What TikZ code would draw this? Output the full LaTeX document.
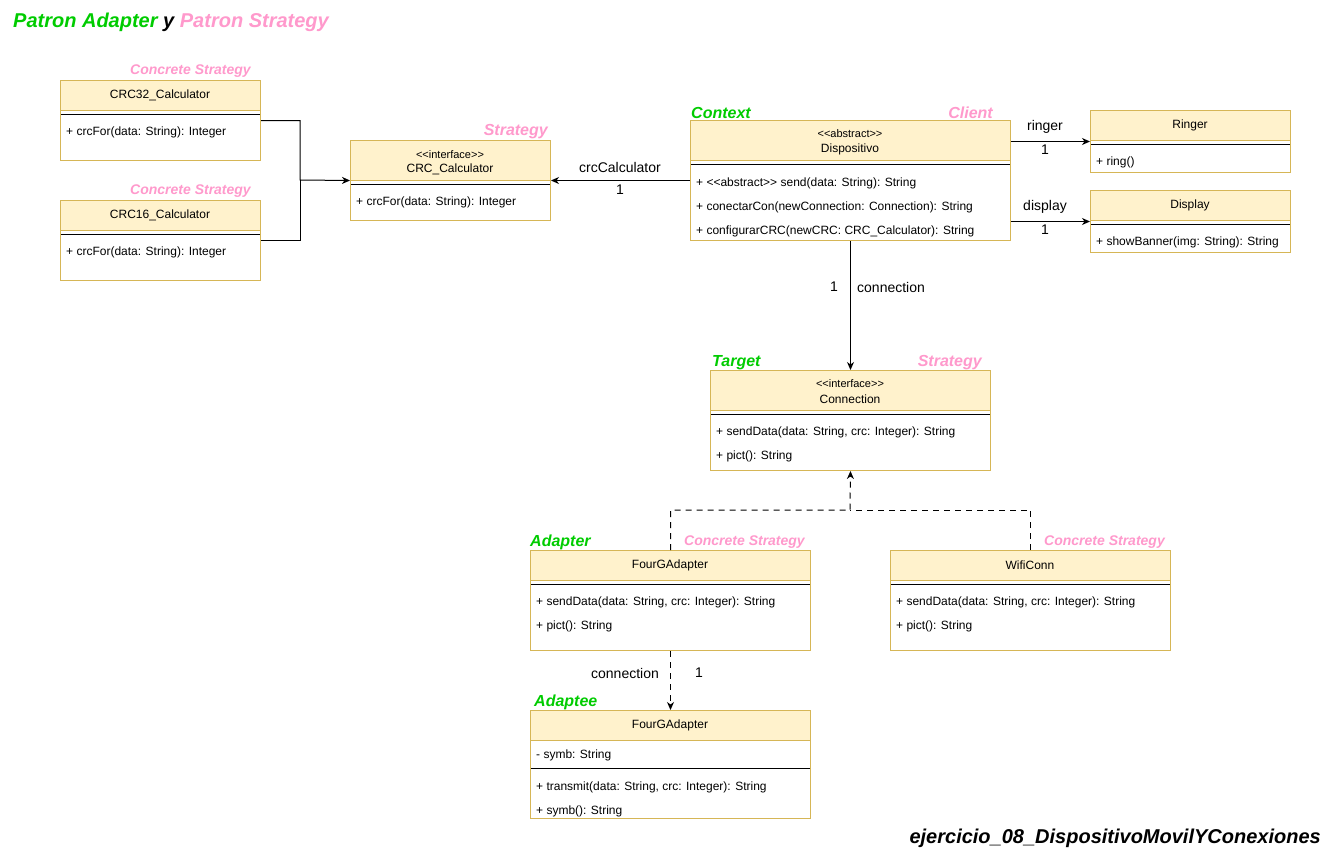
\documentclass[tikz,border=0pt]{standalone}
\usepackage{fontspec}
\setmainfont{Liberation Sans}[Ligatures=TeXOff]
\usetikzlibrary{arrows.meta}
\definecolor{hdrfill}{HTML}{FFF2CC}
\definecolor{hdrborder}{HTML}{D6B656}
\definecolor{rolegreen}{HTML}{00CC00}
\definecolor{rolepink}{HTML}{FF99CC}
\newcommand{\hdrband}[4]{\fill[hdrfill] (#1,#2) rectangle (#3,#4); \draw[hdrborder, line width=1pt] (#1,#4) -- (#3,#4);}
\newcommand{\sepband}[3]{\draw[black, line width=1pt] (#1,#3) -- (#2,#3);}
\begin{document}
\begin{tikzpicture}[x=1pt,y=-1pt,
  classbox/.style={draw=hdrborder, line width=1pt, inner sep=0pt, anchor=north west},
  cname/.style={inner sep=0pt, yshift=-1pt, font=\fontsize{12}{14}\selectfont},
  stereo/.style={inner sep=0pt, yshift=-1pt, font=\fontsize{11}{13}\selectfont},
  memb/.style={inner sep=0pt, yshift=-1pt, anchor=west, font=\fontsize{12}{14}\selectfont},
  roleg/.style={inner sep=0pt, yshift=-1.5pt, text=rolegreen, font=\fontsize{16}{19}\selectfont\bfseries\itshape},
  rolep/.style={inner sep=0pt, yshift=-1.5pt, text=rolepink, font=\fontsize{16}{19}\selectfont\bfseries\itshape},
  rolepsmall/.style={inner sep=0pt, yshift=-1.5pt, text=rolepink, font=\fontsize{14}{17}\selectfont\bfseries\itshape},
  elabel/.style={inner sep=0pt, font=\fontsize{14}{16}\selectfont},
  conn/.style={draw=black, line width=1pt},
  arr/.style={conn, -{Stealth[length=8pt,width=7pt,inset=2.5pt]}},
  dashconn/.style={conn, dash pattern=on 6pt off 5pt},
  dasharr/.style={arr, dash pattern=on 6pt off 5pt}
]
\fill[white] (0,0) rectangle (1331,859);

% title
\node[inner sep=0pt, anchor=west, yshift=-1pt, font=\fontsize{20}{24}\selectfont\bfseries\itshape] (title) at (13,21)
  {\textcolor{rolegreen}{Patron Adapter} y \textcolor{rolepink}{Patron Strategy}};
\node[inner sep=0pt, anchor=east, font=\fontsize{20}{24}\selectfont\bfseries\itshape] (footer) at (1321,838)
  {ejercicio\_08\_DispositivoMovilYConexiones};

% CRC32_Calculator
\hdrband{60}{80}{260}{110}
\sepband{60}{260}{114}
\node[classbox, minimum width=200pt, minimum height=80pt] (crc32) at (60,80) {};
\node[cname] (crc32n) at (160,94) {CRC32\_Calculator};
\node[memb] (crc32m) at (66,131) {+ crcFor(data: String): Integer};
\node[rolepsmall, anchor=east] (crc32r) at (251,70) {Concrete Strategy};

% CRC16_Calculator
\hdrband{60}{200}{260}{230}
\sepband{60}{260}{234}
\node[classbox, minimum width=200pt, minimum height=80pt] (crc16) at (60,200) {};
\node[cname] (crc16n) at (160,214) {CRC16\_Calculator};
\node[memb] (crc16m) at (66,251) {+ crcFor(data: String): Integer};
\node[rolepsmall, anchor=east] (crc16r) at (251,190) {Concrete Strategy};

% CRC_Calculator
\hdrband{350}{140}{550}{180}
\sepband{350}{550}{184}
\node[classbox, minimum width=200pt, minimum height=80pt] (crccalc) at (350,140) {};
\node[stereo] (crccalcs) at (450,154) {<<interface>>};
\node[cname] (crccalcn) at (450,168) {CRC\_Calculator};
\node[memb] (crccalcm) at (356,201) {+ crcFor(data: String): Integer};
\node[rolep, anchor=east] (crccalcr) at (548,130) {Strategy};

% Dispositivo
\hdrband{690}{120}{1010}{160}
\sepband{690}{1010}{164}
\node[classbox, minimum width=320pt, minimum height=120pt] (disp) at (690,120) {};
\node[stereo] (disps) at (850,133) {<<abstract>>};
\node[cname] (dispn) at (850,148) {Dispositivo};
\node[memb] (dispm1) at (696,182) {+ <<abstract>> send(data: String): String};
\node[memb] (dispm2) at (696,206) {+ conectarCon(newConnection: Connection): String};
\node[memb] (dispm3) at (696,230) {+ configurarCRC(newCRC: CRC\_Calculator): String};
\node[roleg, anchor=west] (dispr1) at (691,111) {Context};
\node[rolep, anchor=east] (dispr2) at (993,111) {Client};

% Ringer
\hdrband{1090}{110}{1290}{140}
\sepband{1090}{1290}{144}
\node[classbox, minimum width=200pt, minimum height=62pt] (ringer) at (1090,110) {};
\node[cname] (ringern) at (1190,124) {Ringer};
\node[memb] (ringerm) at (1096,161) {+ ring()};

% Display
\hdrband{1090}{190}{1290}{220}
\sepband{1090}{1290}{224}
\node[classbox, minimum width=200pt, minimum height=62pt] (display) at (1090,190) {};
\node[cname] (displayn) at (1190,204) {Display};
\node[memb] (displaym) at (1096,241) {+ showBanner(img: String): String};

% Connection
\hdrband{710}{370}{990}{410}
\sepband{710}{990}{414}
\node[classbox, minimum width=280pt, minimum height=100pt] (connection) at (710,370) {};
\node[stereo] (connections) at (850,383) {<<interface>>};
\node[cname] (connectionn) at (850,398) {Connection};
\node[memb] (connectionm1) at (716,431) {+ sendData(data: String, crc: Integer): String};
\node[memb] (connectionm2) at (716,455) {+ pict(): String};
\node[roleg, anchor=west] (connectionr1) at (712,361) {Target};
\node[rolep, anchor=east] (connectionr2) at (982,361) {Strategy};

% FourGAdapter (adapter)
\hdrband{530}{550}{810}{580}
\sepband{530}{810}{584}
\node[classbox, minimum width=280pt, minimum height=100pt] (fourg) at (530,550) {};
\node[cname] (fourgn) at (670,564) {FourGAdapter};
\node[memb] (fourgm1) at (536,601) {+ sendData(data: String, crc: Integer): String};
\node[memb] (fourgm2) at (536,625) {+ pict(): String};
\node[roleg, anchor=west] (fourgr1) at (530,541) {Adapter};
\node[rolepsmall, anchor=east] (fourgr2) at (805,541) {Concrete Strategy};

% WifiConn
\hdrband{890}{550}{1170}{580}
\sepband{890}{1170}{584}
\node[classbox, minimum width=280pt, minimum height=100pt] (wifi) at (890,550) {};
\node[cname] (wifin) at (1030,564) {WifiConn};
\node[memb] (wifim1) at (896,601) {+ sendData(data: String, crc: Integer): String};
\node[memb] (wifim2) at (896,625) {+ pict(): String};
\node[rolepsmall, anchor=east] (wifir) at (1165,541) {Concrete Strategy};

% FourGAdapter (adaptee)
\hdrband{530}{710}{810}{740}
\sepband{530}{810}{768}
\node[classbox, minimum width=280pt, minimum height=108pt] (adaptee) at (530,710) {};
\node[cname] (adapteen) at (670,724) {FourGAdapter};
\node[memb] (adapteea) at (536,754) {- symb: String};
\node[memb] (adapteem1) at (536,786) {+ transmit(data: String, crc: Integer): String};
\node[memb] (adapteem2) at (536,810) {+ symb(): String};
\node[roleg, anchor=west] (adapteer) at (534,701) {Adaptee};

% connectors
\coordinate (mergeL) at (300,180);
\draw[arr] (crc32.east) -| (mergeL) -- (crccalc.west);
\draw[conn] (crc16.east) -| (mergeL);

\draw[arr] (disp.west) -- (crccalc.east);
\node[elabel] (lcrc) at (620,167) {crcCalculator};
\node[elabel] (lcrc1) at (620,190) {1};

\draw[arr] (disp.east |- ringer.west) -- (ringer.west);
\node[elabel] (lring) at (1045,127) {ringer};
\node[elabel] (lring1) at (1045,150) {1};

\draw[arr] (disp.east |- display.west) -- (display.west);
\node[elabel] (ldisp) at (1045,207) {display};
\node[elabel] (ldisp1) at (1045,230) {1};

\draw[arr] (disp.south) -- (connection.north);
\node[elabel] (lconn1) at (834,287) {1};
\node[elabel, anchor=west] (lconn) at (857,287) {connection};

\coordinate (junc) at (850,510);
\draw[dasharr] (fourg.north) |- (junc) -- (connection.south);
\draw[dashconn] (wifi.north) |- (junc);

\draw[dasharr] (fourg.south) -- (adaptee.north);
\node[elabel] (lad) at (625,673) {connection};
\node[elabel] (lad1) at (699,673) {1};
\end{tikzpicture}
\end{document}
